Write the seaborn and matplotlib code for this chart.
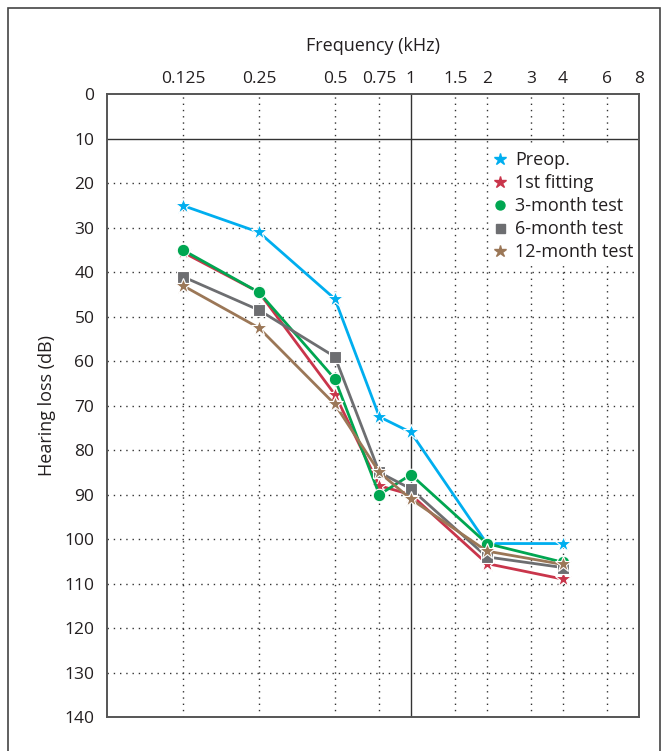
import numpy as np
import pandas as pd
import seaborn as sns
import matplotlib.pyplot as plt
from matplotlib.lines import Line2D
from matplotlib.patches import Rectangle

# values
freqs = [0.125, 0.25, 0.5, 0.75, 1, 2, 4]
preop = [25, 31, 46, 72.5, 76, 101, 101]
first_fitting = [35.5, 44.5, 67.5, 88, 90, 105.5, 109]
month3 = [35, 44.5, 64, 90, 85.5, 101, 105.2]
month6 = [41, 48.5, 59, 85, 88.7, 104, 106.4]
month12 = [43, 52.5, 69.7, 85, 91, 102.7, 105.7]

series_names = ["Preop.", "1st fitting", "3-month test", "6-month test", "12-month test"]
tick_freqs = [0.125, 0.25, 0.5, 0.75, 1, 1.5, 2, 3, 4, 6, 8]
tick_labels = ["0.125", "0.25", "0.5", "0.75", "1", "1.5", "2", "3", "4", "6", "8"]
db_ticks = list(range(0, 150, 10))

colors = ["#00aeef", "#c9354b", "#00a651", "#6d6e71", "#9b7757"]
markers = ["*", "*", "o", "s", "*"]
sizes = [12, 12, 9, 9, 12]

df = pd.DataFrame({
    "freq": freqs * 5,
    "db": preop + first_fitting + month3 + month6 + month12,
    "test": np.repeat(series_names, len(freqs)),
})

sns.set_style("white")
plt.rcParams["font.family"] = ["Open Sans", "DejaVu Sans"]

fig = plt.figure(figsize=(6.62, 7.51), dpi=100)
ax = fig.add_axes([0.1616, 0.0453, 0.8034, 0.829])

# grid first
for f in tick_freqs[:-1]:
    if f == 1:
        ax.axvline(f, color="#333333", lw=1.0, zorder=1)
    else:
        ax.axvline(f, color="#333333", lw=1.0, ls=(0, (1, 3.5)), zorder=1)
for d in db_ticks[1:-1]:
    if d == 10:
        ax.axhline(d, color="#333333", lw=1.0, zorder=1)
    else:
        ax.axhline(d, color="#333333", lw=1.0, ls=(0, (1, 3.5)), zorder=1)

draw_order = [2, 3, 4, 1, 0]
for i in draw_order:
    name = series_names[i]
    sub = df[df["test"] == name]
    sns.lineplot(data=sub, x="freq", y="db", ax=ax, color=colors[i], lw=2,
                 marker=markers[i], markersize=sizes[i], markeredgecolor="white",
                 markeredgewidth=0.8, legend=False, zorder=3 + i, estimator=None)

ax.set_xscale("log")
ax.set_xlim(0.0625, 8)
ax.set_ylim(140, 0)
ax.minorticks_off()
ax.set_xticks(tick_freqs)
ax.set_xticklabels(tick_labels)
ax.set_yticks(db_ticks)
ax.xaxis.tick_top()
ax.xaxis.set_label_position("top")
ax.tick_params(axis="both", length=0, labelsize=12.5, colors="#231f20")
ax.tick_params(axis="x", pad=5)
ax.tick_params(axis="y", pad=9)
ax.set_xlabel("Frequency (kHz)", fontsize=13, color="#231f20", labelpad=15)
ax.set_ylabel("Hearing loss (dB)", fontsize=13, color="#231f20", labelpad=6)
for sp in ax.spines.values():
    sp.set_color("#555555")
    sp.set_linewidth(1.4)

handles = [Line2D([], [], ls="none", marker=markers[i], color=colors[i],
                  markersize=sizes[i] * 0.72) for i in range(5)]
leg = ax.legend(handles, series_names, loc="upper right", bbox_to_anchor=(1.0, 0.918),
                frameon=True, fontsize=13, handlelength=0.8, handletextpad=0.45,
                labelspacing=0.28, borderpad=0.2, borderaxespad=0.1)
leg.get_frame().set_facecolor("white")
leg.get_frame().set_edgecolor("none")
leg.get_frame().set_alpha(1)
leg.set_zorder(10)
for t in leg.get_texts():
    t.set_color("#231f20")

# outer border (bottom runs off the page)
fig.patches.append(Rectangle((8 / 662, -0.05), 652 / 662, 1.05 - 8 / 751,
                             transform=fig.transFigure, fill=False,
                             edgecolor="#444444", lw=1.2))

fig.savefig("out.png", dpi=100)
